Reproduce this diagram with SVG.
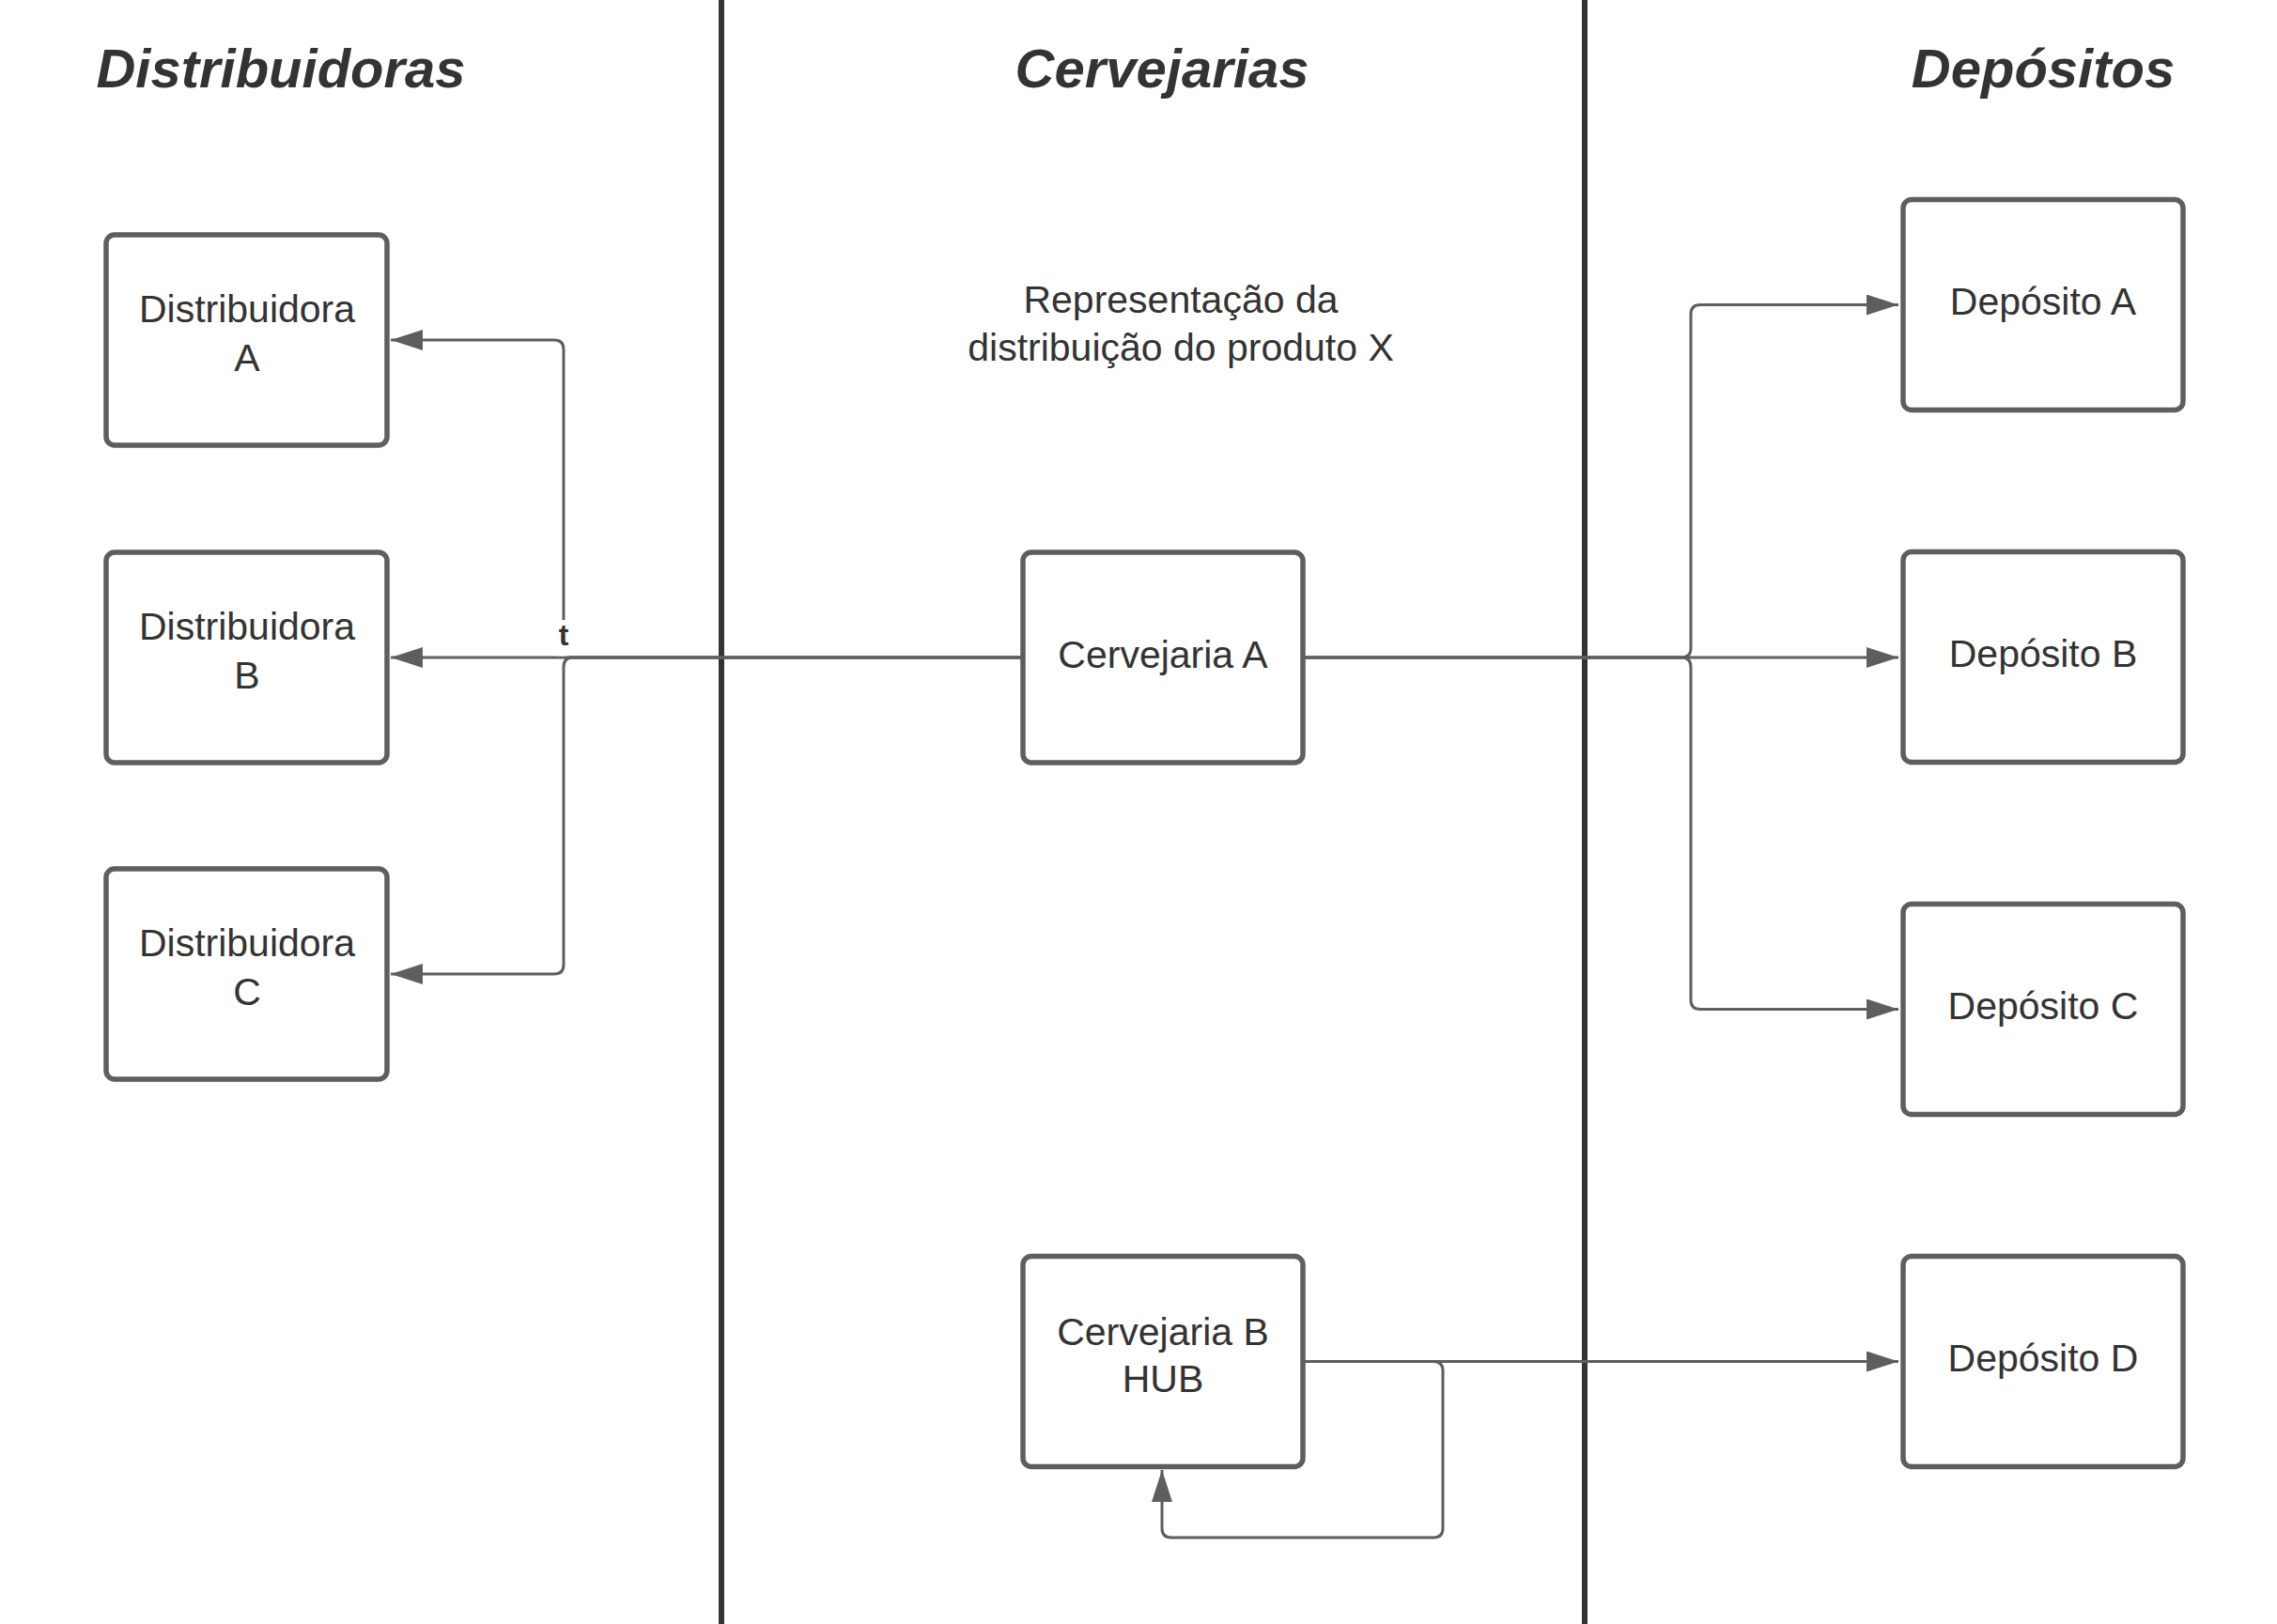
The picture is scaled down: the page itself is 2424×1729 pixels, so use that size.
<svg xmlns="http://www.w3.org/2000/svg" width="2424" height="1729" viewBox="0 0 2424 1729">
  <style>
    .box { fill: #ffffff; stroke: #5e5e5e; stroke-width: 5.5; }
    .lbl { font-family: "Liberation Sans", Arial, sans-serif; font-size: 41px; fill: #333333; text-anchor: middle; }
    .title { font-family: "Liberation Sans", Arial, sans-serif; font-size: 58px; font-weight: bold; font-style: italic; fill: #333333; text-anchor: middle; }
    .conn { fill: none; stroke: #5e5e5e; stroke-width: 3; }
    .lane { stroke: #333333; stroke-width: 6; }
  </style>
  <defs>
    <marker id="arrow" markerUnits="userSpaceOnUse" markerWidth="36" markerHeight="24" refX="34" refY="11" orient="auto">
      <path d="M0,0 L34,11 L0,22 Z" fill="#5e5e5e"/>
    </marker>
  </defs>
  <rect width="2424" height="1729" fill="#ffffff"/>

  <g id="lanes">
    <line class="lane" x1="768" y1="0" x2="768" y2="1729"/>
    <line class="lane" x1="1687" y1="0" x2="1687" y2="1729"/>
  </g>

  <g id="titles">
    <text class="title" x="299" y="93">Distribuidoras</text>
    <text class="title" x="1237" y="93">Cervejarias</text>
    <text class="title" x="2175" y="93">Depósitos</text>
  </g>

  <g id="description">
    <text class="lbl" x="1257" y="333">Representação da</text>
    <text class="lbl" x="1257" y="384">distribuição do produto X</text>
  </g>

  <g id="connectors">
    <path class="conn" d="M1090,700 H416" marker-end="url(#arrow)"/>
    <path class="conn" d="M1090,700 H610 Q600,700 600,690 V372 Q600,362 590,362 H416" marker-end="url(#arrow)"/>
    <path class="conn" d="M1090,700 H610 Q600,700 600,710 V1027 Q600,1037 590,1037 H416" marker-end="url(#arrow)"/>
    <path class="conn" d="M1386,700 H2021" marker-end="url(#arrow)"/>
    <path class="conn" d="M1386,700 H1790 Q1800,700 1800,690 V334.5 Q1800,324.5 1810,324.5 H2021" marker-end="url(#arrow)"/>
    <path class="conn" d="M1386,700 H1790 Q1800,700 1800,710 V1064.5 Q1800,1074.5 1810,1074.5 H2021" marker-end="url(#arrow)"/>
    <path class="conn" d="M1386,1449.5 H2021" marker-end="url(#arrow)"/>
    <path class="conn" d="M1386,1449.5 H1526 Q1536,1449.5 1536,1459.5 V1627 Q1536,1637 1526,1637 H1247 Q1237,1637 1237,1627 V1565" marker-end="url(#arrow)"/>
    <g id="label-t">
      <rect x="594" y="660" width="12" height="38.5" fill="#ffffff"/>
      <text x="600" y="687" font-family="Liberation Sans, Arial, sans-serif" font-size="32" font-weight="bold" fill="#333333" text-anchor="middle">t</text>
    </g>
  </g>

  <g id="dist-a">
    <rect class="box" x="113" y="250" width="299" height="224" rx="9"/>
    <text class="lbl" x="263" y="343">Distribuidora</text>
    <text class="lbl" x="263" y="395">A</text>
  </g>
  <g id="dist-b">
    <rect class="box" x="113" y="588" width="299" height="224" rx="9"/>
    <text class="lbl" x="263" y="681">Distribuidora</text>
    <text class="lbl" x="263" y="733">B</text>
  </g>
  <g id="dist-c">
    <rect class="box" x="113" y="925" width="299" height="224" rx="9"/>
    <text class="lbl" x="263" y="1018">Distribuidora</text>
    <text class="lbl" x="263" y="1070">C</text>
  </g>

  <g id="cerv-a">
    <rect class="box" x="1089" y="588" width="298" height="224" rx="9"/>
    <text class="lbl" x="1238" y="711">Cervejaria A</text>
  </g>
  <g id="cerv-b">
    <rect class="box" x="1089" y="1337.5" width="298" height="224" rx="9"/>
    <text class="lbl" x="1238" y="1431.5">Cervejaria B</text>
    <text class="lbl" x="1238" y="1482">HUB</text>
  </g>

  <g id="dep-a">
    <rect class="box" x="2026" y="212.5" width="298" height="224" rx="9"/>
    <text class="lbl" x="2175" y="335">Depósito A</text>
  </g>
  <g id="dep-b">
    <rect class="box" x="2026" y="587.5" width="298" height="224" rx="9"/>
    <text class="lbl" x="2175" y="710">Depósito B</text>
  </g>
  <g id="dep-c">
    <rect class="box" x="2026" y="962.5" width="298" height="224" rx="9"/>
    <text class="lbl" x="2175" y="1085">Depósito C</text>
  </g>
  <g id="dep-d">
    <rect class="box" x="2026" y="1337.5" width="298" height="224" rx="9"/>
    <text class="lbl" x="2175" y="1460">Depósito D</text>
  </g>
</svg>
